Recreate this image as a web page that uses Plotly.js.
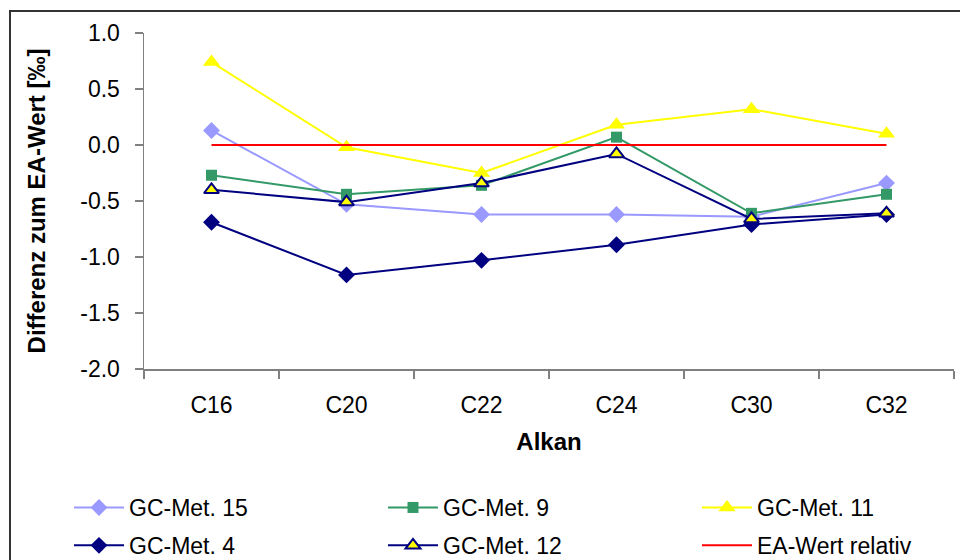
<!DOCTYPE html>
<html>
<head>
<meta charset="utf-8">
<script src="https://cdn.plot.ly/plotly-3.0.1.min.js"></script>
<style>html,body{margin:0;padding:0;background:#fff;}#chart{width:960px;height:560px;}</style>
</head>
<body>
<div id="chart"></div>
<script>
const categories = ["C16", "C20", "C22", "C24", "C30", "C32"];
const met15 = [0.13, -0.53, -0.62, -0.62, -0.64, -0.34];
const met9  = [-0.27, -0.44, -0.36, 0.07, -0.61, -0.44];
const met11 = [0.74, -0.02, -0.25, 0.18, 0.32, 0.10];
const met4  = [-0.69, -1.16, -1.03, -0.89, -0.71, -0.62];
const met12 = [-0.40, -0.51, -0.34, -0.08, -0.66, -0.61];
const eaRel = [0, 0, 0, 0, 0, 0];
const yTicks = [-2.0, -1.5, -1.0, -0.5, 0.0, 0.5, 1.0];
const yTickText = ["-2.0", "-1.5", "-1.0", "-0.5", "0.0", "0.5", "1.0"];

const F = "Liberation Sans, Arial, sans-serif";
function tr(name, y, color, symbol, size, legend, extra) {
  return {
    type: 'scatter', mode: 'lines+markers', name: name, x: categories, y: y,
    line: {color: color, width: 2},
    marker: Object.assign({symbol: symbol, size: size, color: color}, extra || {}),
    legend: legend, legendgroup: name
  };
}
const traces = [
  tr("GC-Met. 15", met15, "#9999FF", "diamond", 13, "legend"),
  tr("GC-Met. 9", met9, "#339966", "square", 11, "legend2"),
  tr("GC-Met. 11", met11, "#FFFF00", "triangle-up", 15, "legend3"),
  tr("GC-Met. 4", met4, "#000080", "diamond", 13, "legend"),
  tr("GC-Met. 12", met12, "#000080", "triangle-up", 13, "legend2", {color: "#FFFF00", line: {color: "#000080", width: 2}}),
  {type: 'scatter', mode: 'lines', name: "EA-Wert relativ", x: categories, y: eaRel,
   line: {color: "#FF0000", width: 2}, legend: "legend3", legendgroup: "ea"}
];

const L = 144, T = 33, W = 810, H = 336;
function px(x) { return (x - L) / W; }
function py(y) { return (T + H - y) / H; }
const legBase = {
  orientation: 'v', yanchor: 'bottom', xanchor: 'left', y: py(567),
  font: {family: F, size: 23, color: '#000'}, bgcolor: 'rgba(0,0,0,0)',
  tracegroupgap: 5, itemwidth: 50
};

const layout = {
  width: 960, height: 560,
  margin: {l: L, r: 960 - L - W, t: T, b: 560 - T - H, autoexpand: false},
  paper_bgcolor: '#fff', plot_bgcolor: '#fff',
  font: {family: F, size: 23, color: '#000'},
  showlegend: true,
  xaxis: {
    type: 'category', range: [-0.5, 5.5], tickson: 'boundaries',
    showline: true, linecolor: '#808080', linewidth: 1.5,
    ticks: 'outside', ticklen: 8, tickcolor: '#808080', tickwidth: 1.5,
    showgrid: false, zeroline: false, automargin: false,
    tickfont: {family: F, size: 23}, ticklabelstandoff: 15,
    title: {text: "<b>Alkan</b>", font: {family: F, size: 24}, standoff: 16}
  },
  yaxis: {
    range: [-2, 1], tickmode: 'array', tickvals: yTicks, ticktext: yTickText,
    showline: true, linecolor: '#808080', linewidth: 1.5,
    ticks: 'outside', ticklen: 8, tickcolor: '#808080', tickwidth: 1.5,
    showgrid: false, zeroline: false, automargin: false,
    tickfont: {family: F, size: 23}, ticklabelstandoff: 10,
    title: {text: "<b>Differenz zum EA-Wert [‰]</b>", font: {family: F, size: 24}, standoff: 28}
  },
  legend: Object.assign({}, legBase, {x: px(69)}),
  legend2: Object.assign({}, legBase, {x: px(383)}),
  legend3: Object.assign({}, legBase, {x: px(697)}),
  shapes: [{
    type: 'rect', xref: 'paper', yref: 'paper',
    x0: px(10), x1: px(965), y0: py(565), y1: py(11),
    line: {color: '#333333', width: 2}, fillcolor: 'rgba(0,0,0,0)', layer: 'below'
  }]
};

Plotly.newPlot('chart', traces, layout, {displayModeBar: false, staticPlot: true});
</script>
</body>
</html>
